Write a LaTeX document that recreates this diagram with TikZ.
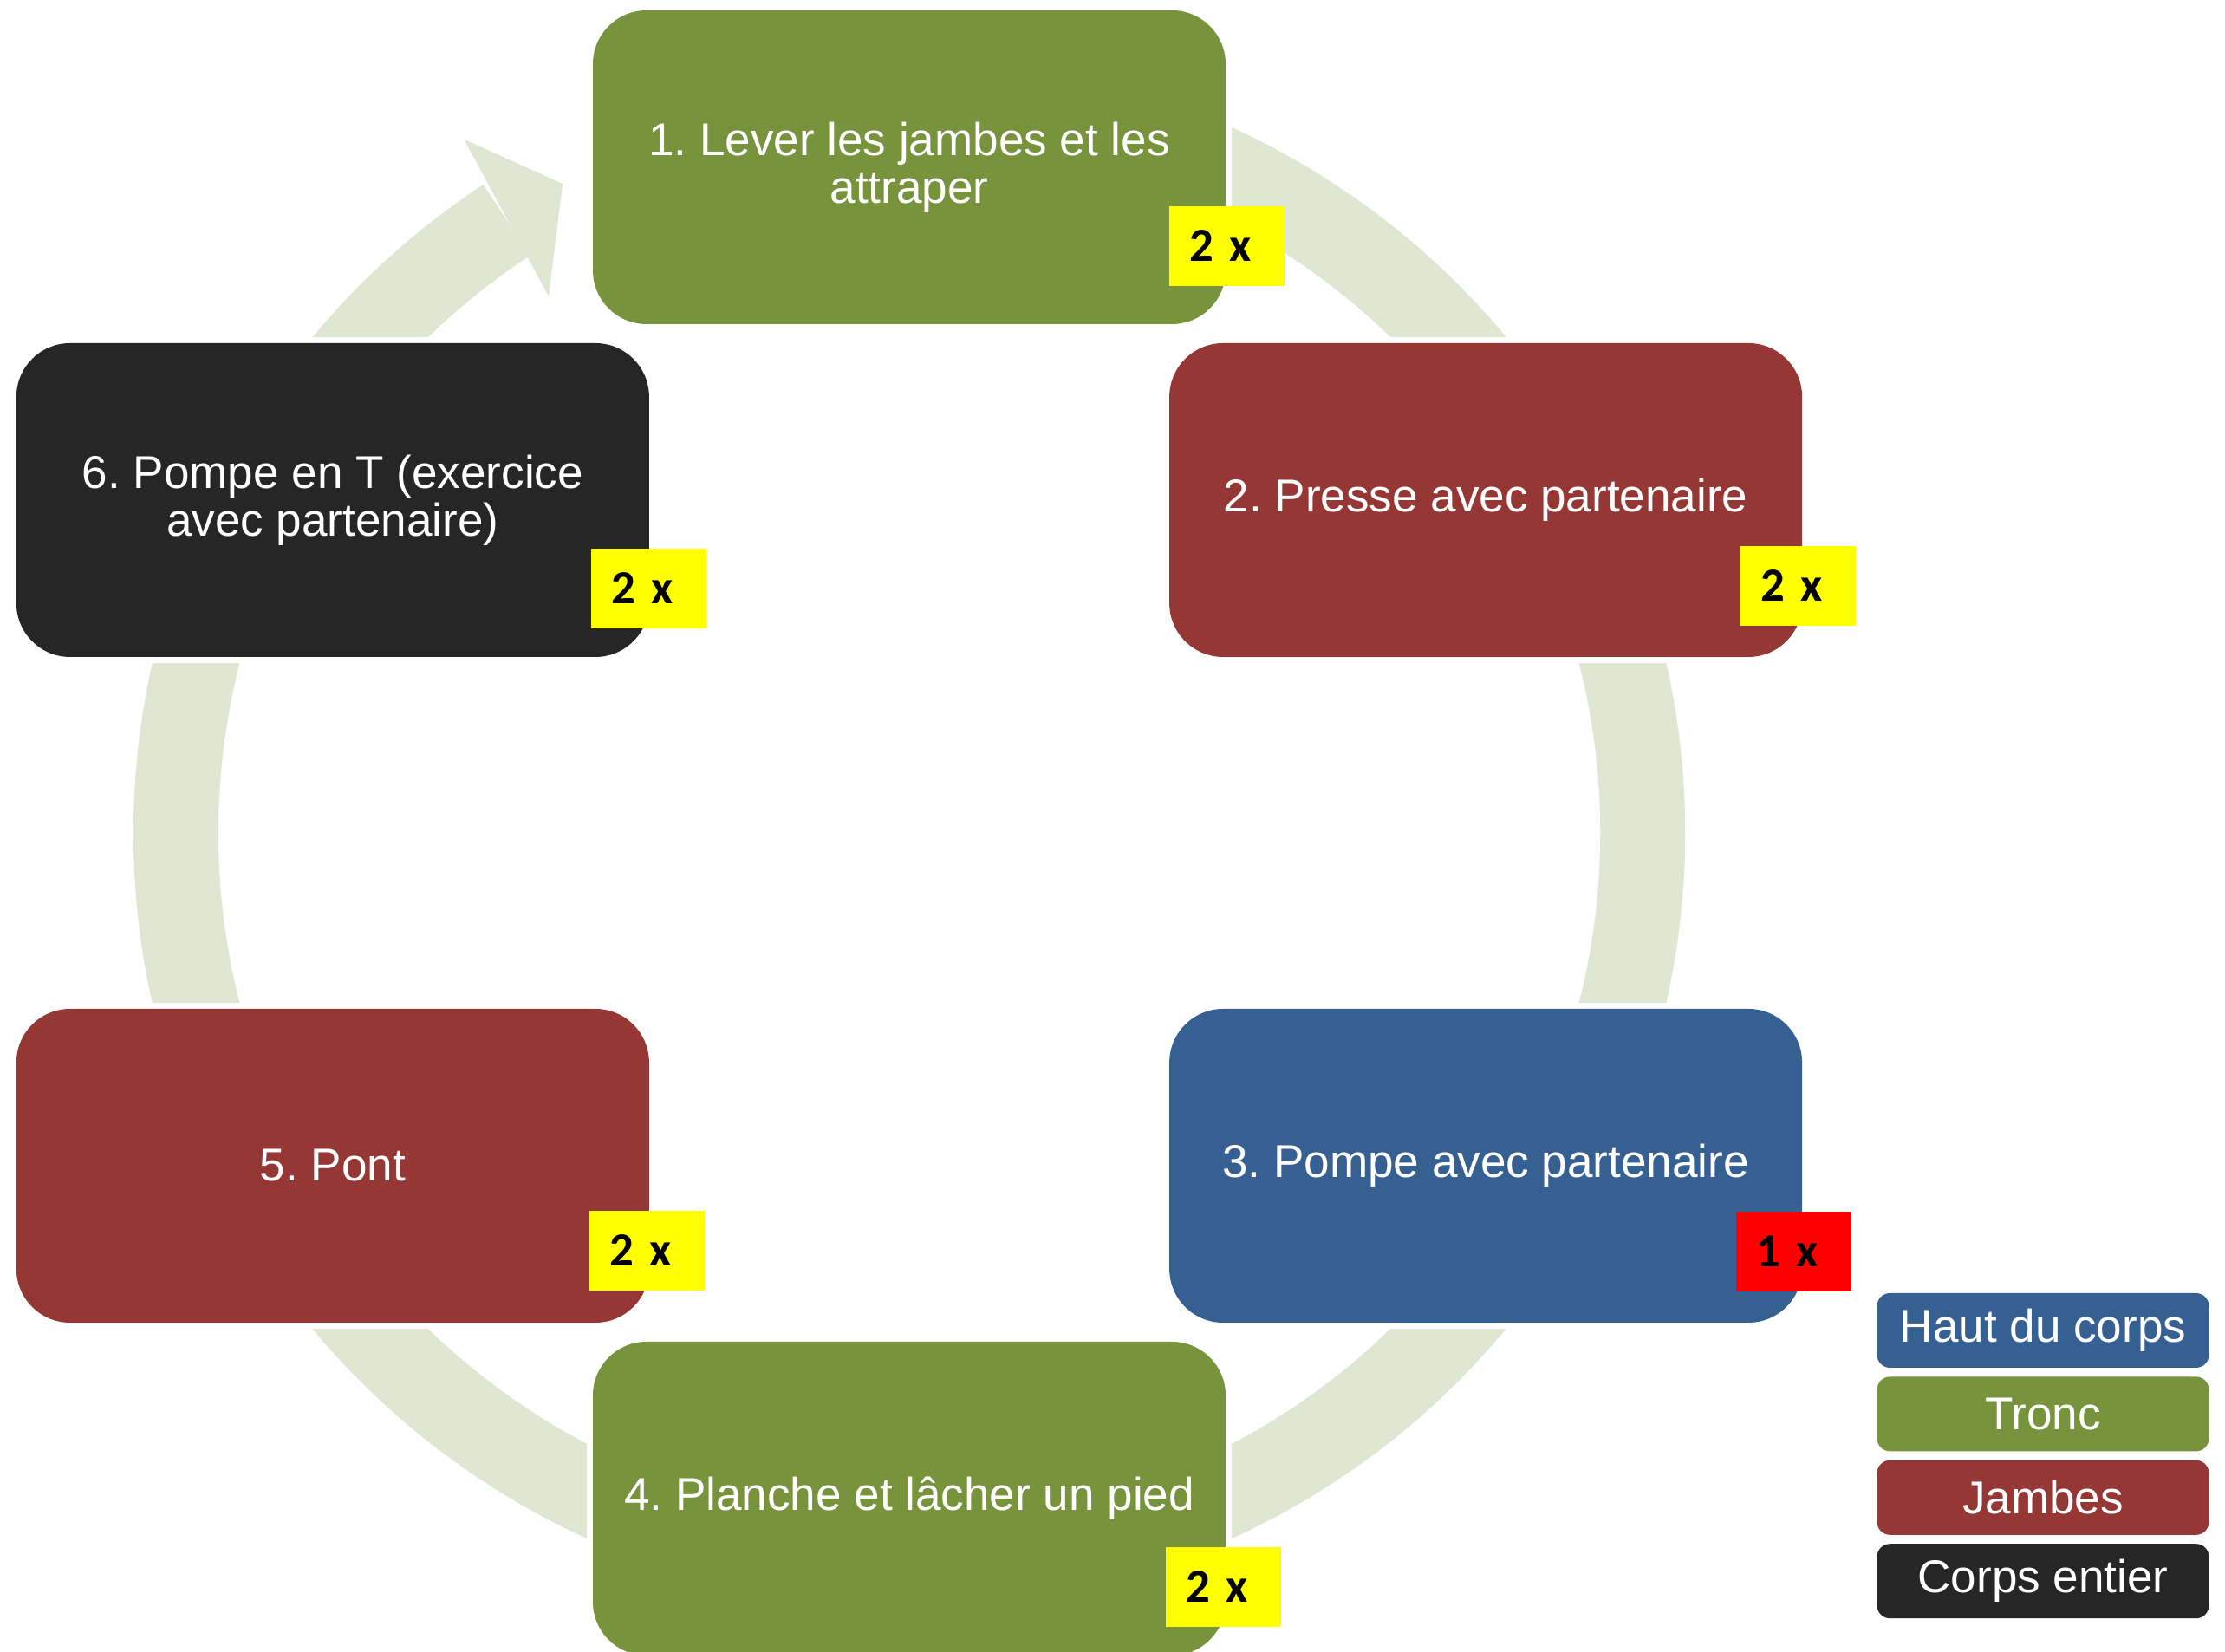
\documentclass[tikz,border=0pt]{standalone}
\usepackage{fontspec}
\setmainfont{Liberation Sans}
\newfontfamily\calibri{Carlito}
\usepackage{tikz}
\usetikzlibrary{calc,positioning,backgrounds}
\frenchspacing

\definecolor{vert}{HTML}{77933C}
\definecolor{rouge}{HTML}{953735}
\definecolor{bleu}{HTML}{376092}
\definecolor{noir}{HTML}{262626}
\definecolor{anneau}{HTML}{DFE7D3}
\definecolor{jaune}{RGB}{255,255,0}
\definecolor{alerte}{RGB}{255,0,0}

\newcommand{\etapefont}{\fontsize{15.1}{15.6}\selectfont}
\newcommand{\badgefont}{\calibri\bfseries\fontsize{15.6}{16}\selectfont}

\tikzset{
  etape/.style={rectangle, rounded corners=0.62cm, minimum width=7.30cm,
    minimum height=3.62cm, inner sep=0pt, text=white, align=center, font=\etapefont},
  badge/.style={rectangle, minimum width=1.33cm, minimum height=0.92cm,
    text width=0.87cm, inner xsep=0.23cm, inner ysep=0pt, align=left, font=\badgefont},
  legende/.style={rectangle, rounded corners=0.15cm, minimum width=3.83cm,
    minimum height=0.86cm, inner sep=0pt, text=white, font=\etapefont},
  trou/.style={fill=white}
}

\begin{document}
\begin{tikzpicture}
    \useasboundingbox (0,0) rectangle (25.67,19.06);
    \coordinate (C) at (10.49,9.45);% centre of the cycle

    % the six exercises
    \node[etape, fill=vert]  (b1) at ($(C)+(90:7.68)$)   {1. Lever les jambes et les\\attraper};
    \node[etape, fill=rouge] (b2) at ($(C)+(30:7.68)$)   {2. Presse avec partenaire};
    \node[etape, fill=bleu]  (b3) at ($(C)+(-30:7.68)$)  {3. Pompe avec partenaire};
    \node[etape, fill=vert]  (b4) at ($(C)+(-90:7.68)$)  {4. Planche et lâcher un pied};
    \node[etape, fill=rouge] (b5) at ($(C)+(-150:7.68)$) {5. Pont};
    \node[etape, fill=noir]  (b6) at ($(C)+(150:7.68)$)  {6. Pompe en T (exercice\\avec partenaire)};

    % repetitions
    \node[badge, fill=jaune]  (x1) at ($(b1.south east)+(0.01,0.91)$)  {2 x};
    \node[badge, fill=jaune]  (x2) at ($(b2.south east)+(-0.05,0.83)$) {2 x};
    \node[badge, fill=alerte] (x3) at ($(b3.south east)+(-0.10,0.83)$) {1 x};
    \node[badge, fill=jaune]  (x4) at ($(b4.south east)+(-0.03,0.80)$) {2 x};
    \node[badge, fill=jaune]  (x5) at ($(b5.south east)+(-0.03,0.84)$) {2 x};
    \node[badge, fill=jaune]  (x6) at ($(b6.south east)+(-0.01,0.80)$) {2 x};

    % legend
    \node[legende, fill=bleu]  (l1) at (23.57,3.71) {Haut du corps};
    \node[legende, fill=vert]  (l2) [below=0.09cm of l1] {Tronc};
    \node[legende, fill=rouge] (l3) [below=0.09cm of l2] {Jambes};
    \node[legende, fill=noir]  (l4) [below=0.09cm of l3] {Corps entier};

    \begin{scope}[on background layer]
      % the ring, cut round every box
      \draw[anneau, line width=0.98cm] ($(C)+(110:8.46)$) arc[start angle=110, end angle=-236.7, radius=8.46];
      \foreach \b in {b1,b2,b3,b4,b5,b6}{
        \fill[trou] ($(\b.south west)+(-0.06,-0.06)$) rectangle ($(\b.north east)+(0.06,0.06)$);
      }
      % arrow head towards step 1
      \fill[anneau] ($(C)+(122.7:9.51)$) -- ($(C)+(118.1:8.49)$) -- ($(C)+(123.9:7.46)$) -- cycle;
    \end{scope}
\end{tikzpicture}
\end{document}
